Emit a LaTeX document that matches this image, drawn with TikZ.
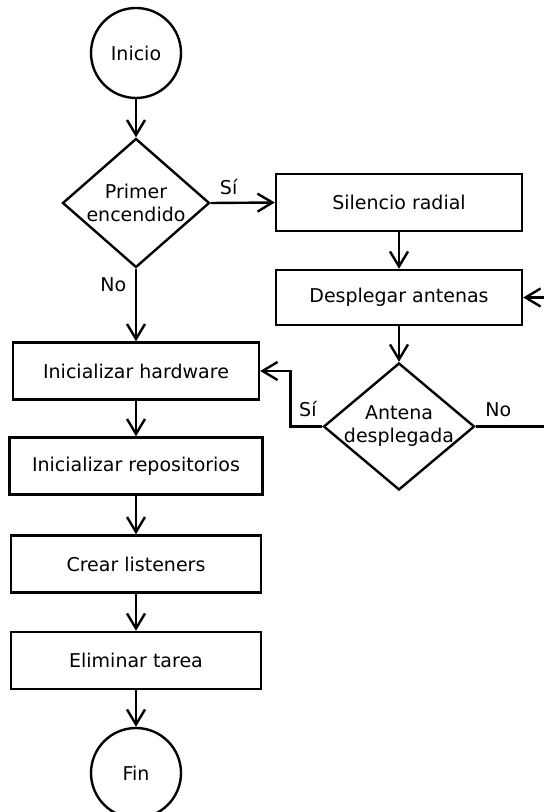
\documentclass[tikz,border=0pt]{standalone}
\usepackage{fontspec}
\setmainfont{DejaVu Sans}
\usetikzlibrary{shapes.geometric,arrows.meta}

\begin{document}
\begin{tikzpicture}[x=0.5pt, y=-0.5pt, line width=1.2pt,
                    >={Straight Barb[length=7.5pt,width=9pt]},
                    font=\fontsize{9.5}{11.5}\selectfont,
                    term/.style={circle,draw,minimum size=45pt,inner sep=0pt},
                    task/.style={rectangle,draw,minimum width=123pt,minimum height=28.5pt,inner sep=0pt},
                    decision/.style={diamond,draw,inner sep=0pt}]
  \clip (0,0) rectangle (544,812);

  % left column
  \node[term] (ini) at (136,53) {Inicio};
  \node[decision, minimum width=73.5pt, minimum height=64.5pt,
        label={[align=center]center:Primer\\encendido}] (pe) at (136,203) {};
  \node[task] (hw) at (136,371) {Inicializar hardware};
  \node[task, minimum width=126.5pt] (rep) at (136,466) {Inicializar repositorios};
  \node[task, minimum width=125pt] (cl) at (136,564) {Crear listeners};
  \node[task, minimum width=125pt] (et) at (136,660.5) {Eliminar tarea};
  \node[term] (fin) at (136,773) {Fin};

  % right column
  \node[task] (sr) at (399,202.5) {Silencio radial};
  \node[task, minimum height=27.5pt] (da) at (399,297.5) {Desplegar antenas};
  \node[decision, minimum width=75.5pt, minimum height=63.5pt,
        label={[align=center]center:Antena\\desplegada}] (ad) at (399,426.5) {};

  \path[->]
    (ini) edge (pe)
    (pe.east) edge node[above, pos=0.28] {Sí} (sr.west)
    (pe.south) edge node[left, pos=0.22, xshift=-1pt] {No} (hw.north)
    (sr) edge (da)
    (da) edge (ad)
    (hw) edge (rep)
    (rep) edge (cl)
    (cl) edge (et)
    (et) edge (fin);

  \draw[->] (ad.west) -- node[above, pos=0.45, yshift=1pt] {Sí} ++(-32,0) |- (hw.east);
  \draw[->] (ad.east) -- node[above, pos=0.25, yshift=1pt] {No} ++(90,0) |- (da.east);
\end{tikzpicture}
\end{document}
